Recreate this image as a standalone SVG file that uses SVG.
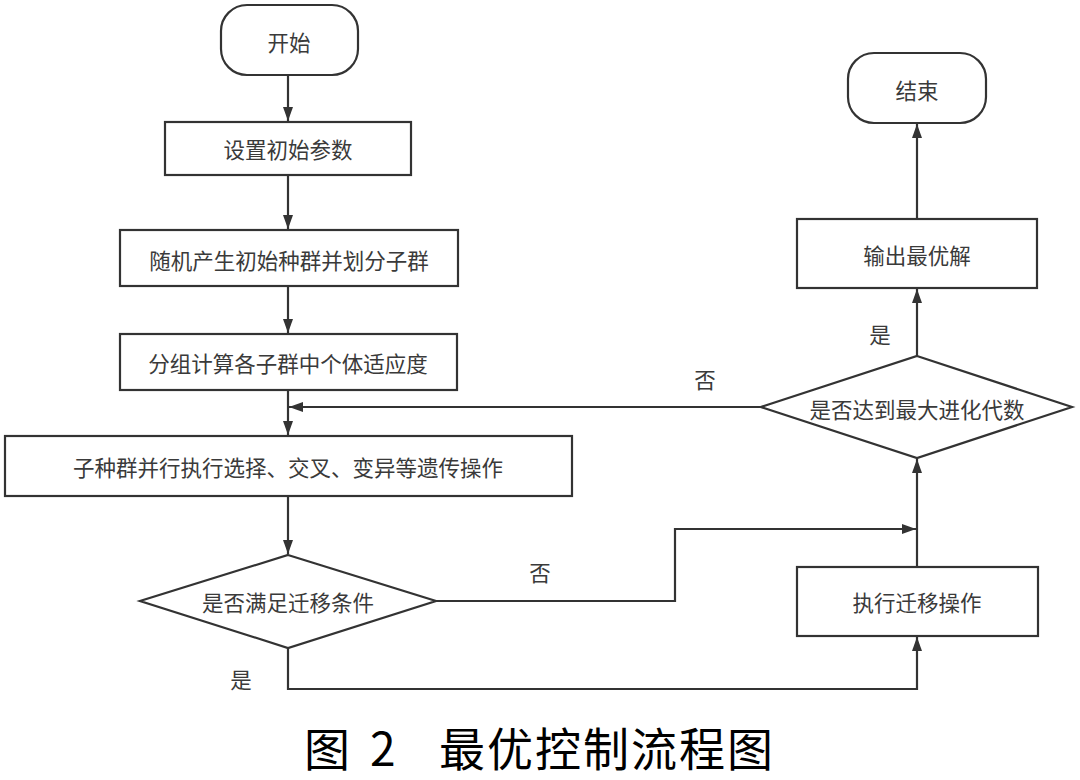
<svg xmlns="http://www.w3.org/2000/svg" width="1080" height="780" viewBox="0 0 1080 780">
<style>
.shape{fill:#fff;stroke:#333;stroke-width:2.2}
.lbl{font-family:"Noto Sans CJK SC","Noto Sans",sans-serif;font-size:21.5px;fill:#3a3a3a;text-anchor:middle;dominant-baseline:central}
.edge{fill:none;stroke:#333;stroke-width:2.2}
.title{font-family:"Noto Sans CJK SC","Noto Sans",sans-serif;font-size:46px;fill:#000}
</style>
<defs>
<marker id="arr" viewBox="0 0 14 10" refX="14" refY="5" markerWidth="14" markerHeight="10" markerUnits="userSpaceOnUse" orient="auto">
<path d="M0,0 L14,5 L0,10 Z" fill="#333"/>
</marker>
</defs>
<rect width="1080" height="780" fill="#fff"/>
<g id="connectors">
<path class="edge" d="M288,75 V121" marker-end="url(#arr)"/>
<path class="edge" d="M288,175 V229" marker-end="url(#arr)"/>
<path class="edge" d="M288,286 V333" marker-end="url(#arr)"/>
<path class="edge" d="M288,390 V435" marker-end="url(#arr)"/>
<path class="edge" d="M761,407 H289" marker-end="url(#arr)"/>
<path class="edge" d="M288,496 V554" marker-end="url(#arr)"/>
<path class="edge" d="M288,648 V689 H917 V637" marker-end="url(#arr)"/>
<path class="edge" d="M436,601 H675 V529 H916" marker-end="url(#arr)"/>
<path class="edge" d="M917,567 V459" marker-end="url(#arr)"/>
<path class="edge" d="M917,356 V289" marker-end="url(#arr)"/>
<path class="edge" d="M917,219 V124" marker-end="url(#arr)"/>
<text class="lbl" x="540" y="571">否</text>
<text class="lbl" x="241" y="678">是</text>
<text class="lbl" x="705" y="378">否</text>
<text class="lbl" x="880" y="333">是</text>
</g>
<g id="start">
<rect class="shape" x="221" y="5" width="137" height="70" rx="26"/>
<text class="lbl" x="289" y="41">开始</text>
</g>
<g id="setParams">
<rect class="shape" x="165" y="122" width="246" height="53"/>
<text class="lbl" x="288" y="148">设置初始参数</text>
</g>
<g id="initPop">
<rect class="shape" x="120" y="230" width="338" height="56"/>
<text class="lbl" x="289" y="259">随机产生初始种群并划分子群</text>
</g>
<g id="fitness">
<rect class="shape" x="120" y="334" width="337" height="56"/>
<text class="lbl" x="288" y="362">分组计算各子群中个体适应度</text>
</g>
<g id="genetic">
<rect class="shape" x="5" y="436" width="567" height="60"/>
<text class="lbl" x="288" y="466">子种群并行执行选择、交叉、变异等遗传操作</text>
</g>
<g id="migrateCond">
<polygon class="shape" points="288,555 436,601 288,648 140,601"/>
<text class="lbl" x="288" y="601">是否满足迁移条件</text>
</g>
<g id="migrate">
<rect class="shape" x="797" y="567" width="241" height="69"/>
<text class="lbl" x="917" y="601">执行迁移操作</text>
</g>
<g id="maxGen">
<polygon class="shape" points="917,356 1072,407 917,458 761,407"/>
<text class="lbl" x="917" y="408">是否达到最大进化代数</text>
</g>
<g id="output">
<rect class="shape" x="797" y="219" width="240" height="69"/>
<text class="lbl" x="917" y="254">输出最优解</text>
</g>
<g id="end">
<rect class="shape" x="848" y="53" width="138" height="70" rx="26"/>
<text class="lbl" x="917" y="89">结束</text>
</g>
<text class="title" x="304" y="766">图<tspan x="370">2</tspan><tspan x="439" letter-spacing="2">最优控制流程图</tspan></text>
</svg>
